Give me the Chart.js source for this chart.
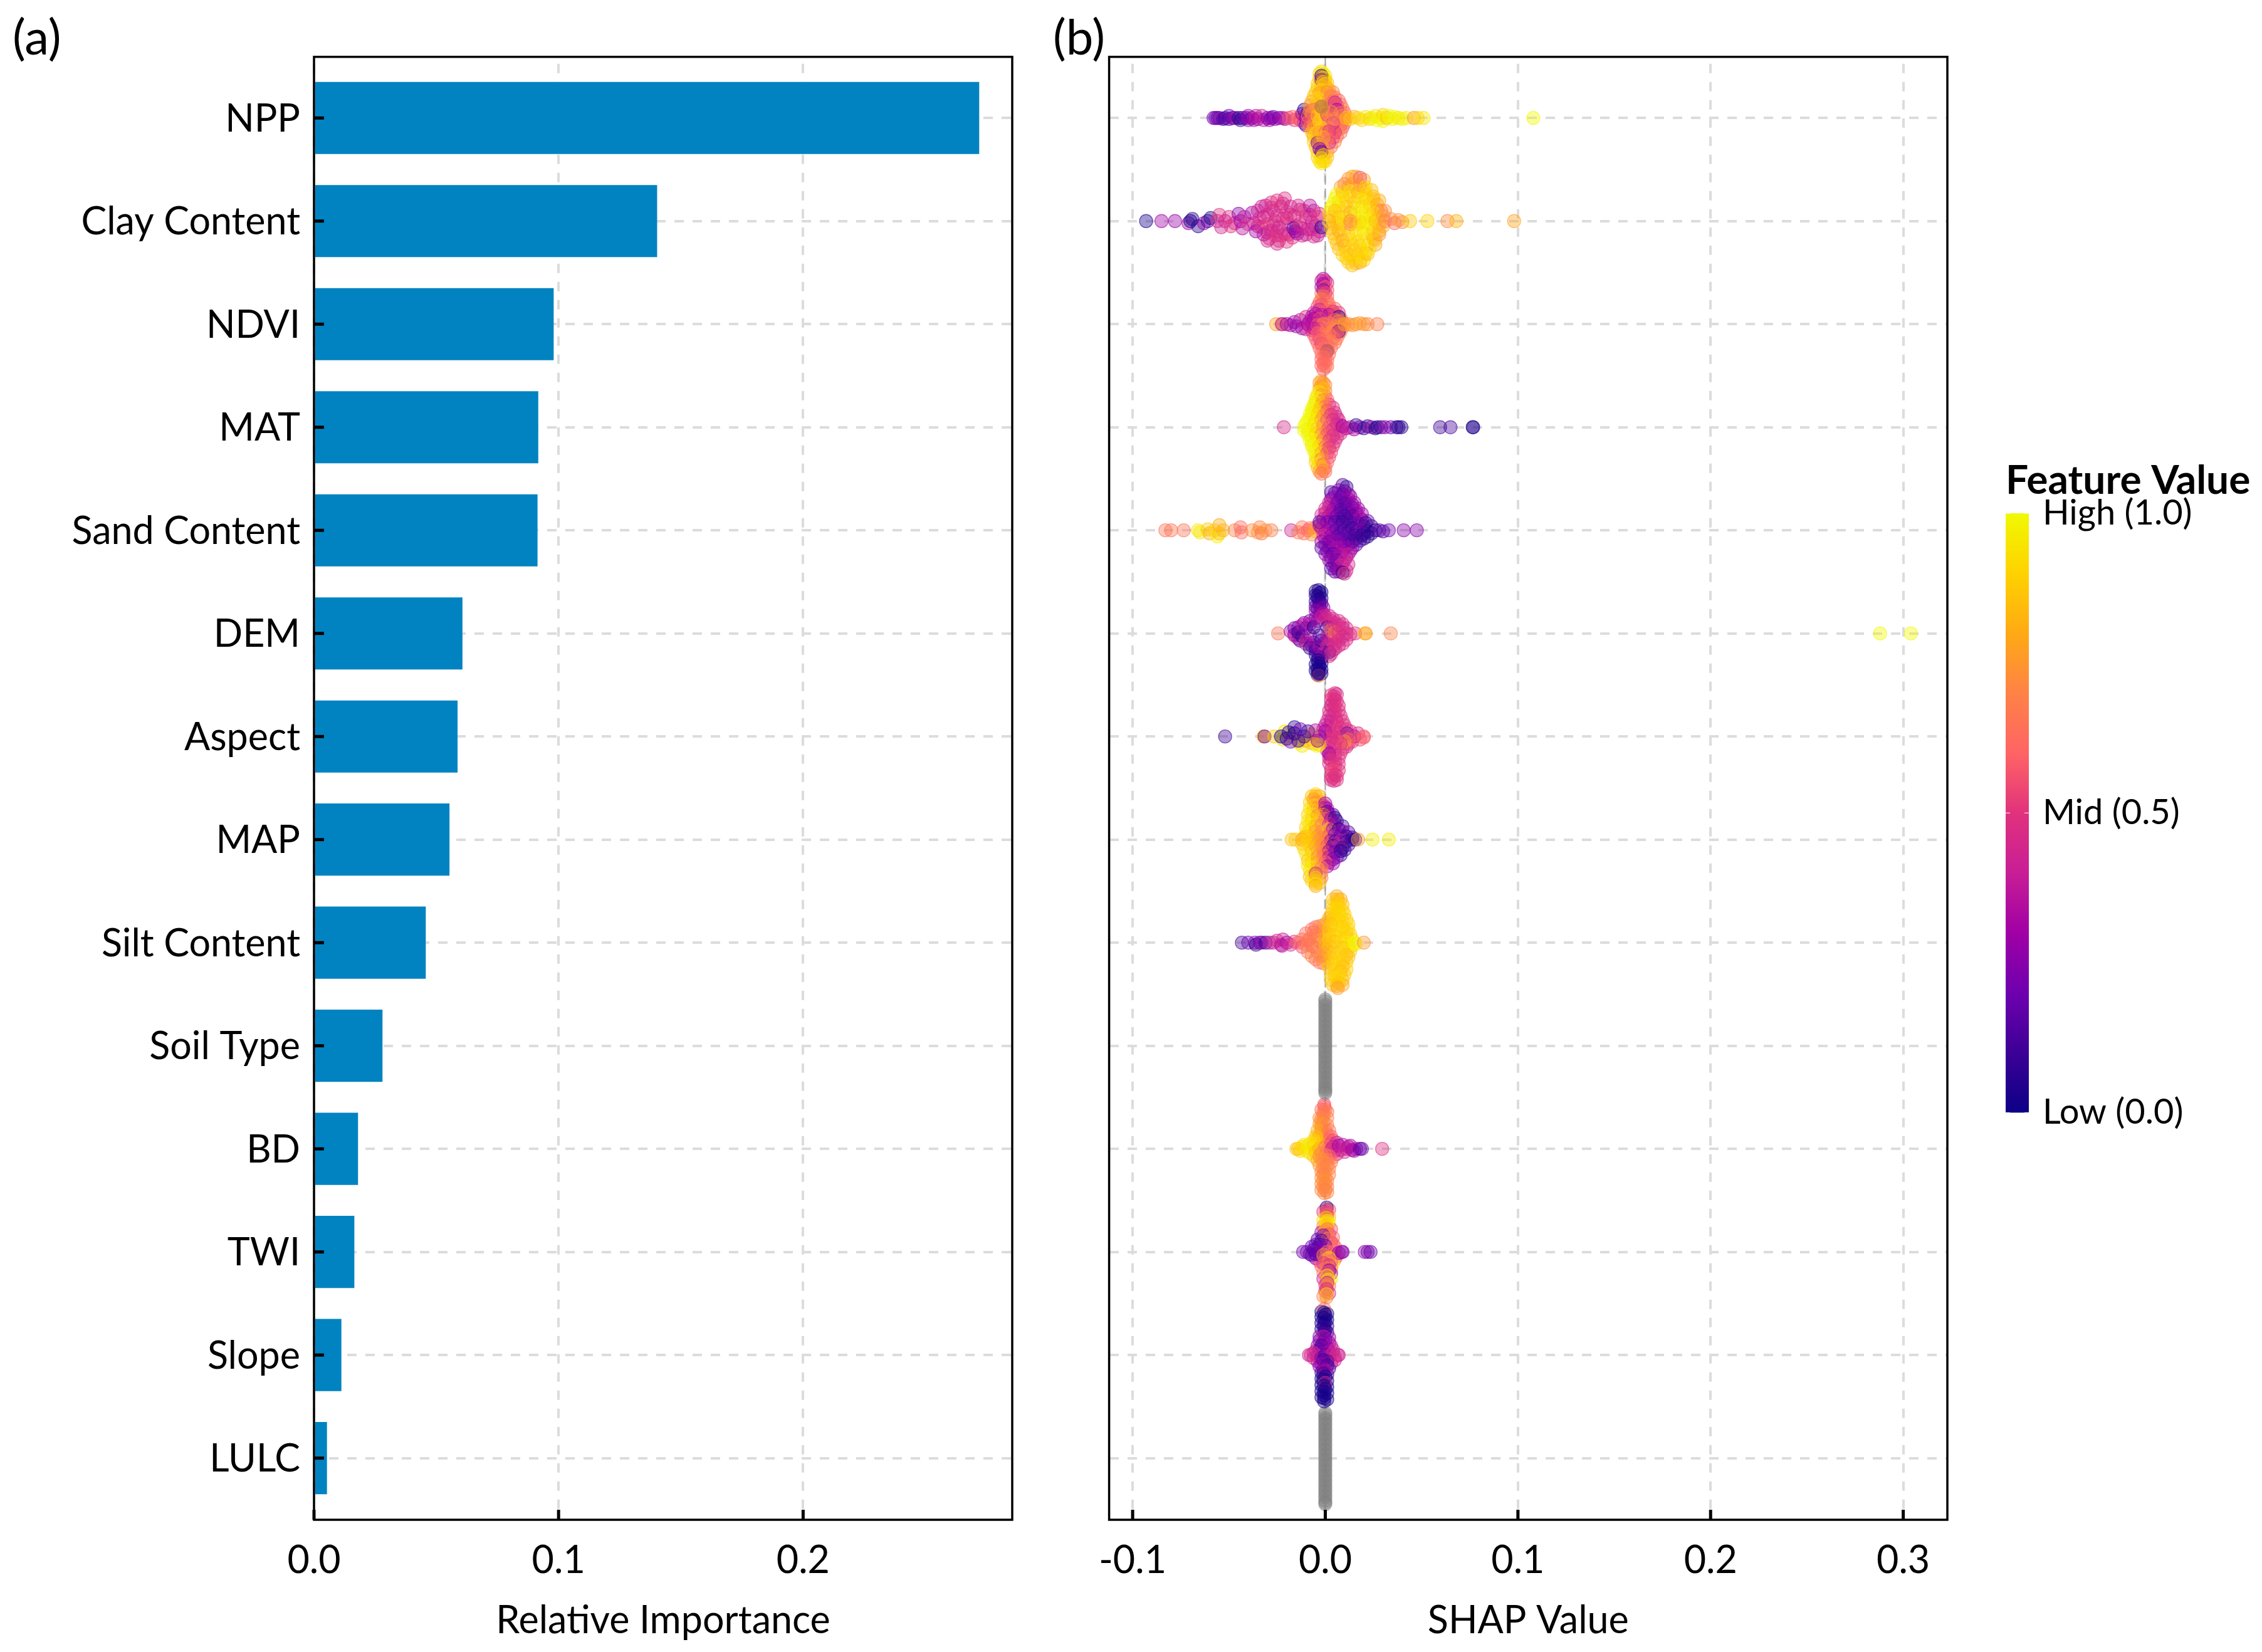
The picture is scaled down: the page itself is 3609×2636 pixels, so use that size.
<!DOCTYPE html>
<html>
<head>
<meta charset="utf-8">
<title>Feature importance and SHAP values</title>
<script src="https://cdn.jsdelivr.net/npm/chart.js@4/dist/chart.umd.min.js"></script>
<style>
  body { margin: 0; background: #fff; }
  canvas { position: absolute; }
</style>
</head>
<body>
<canvas id="barChart" width="1660" height="2636" style="left:0;top:0"></canvas>
<canvas id="swarmChart" width="1480" height="2636" style="left:1660px;top:0"></canvas>
<canvas id="colorbar" width="419" height="1096" style="left:3190px;top:735px"></canvas>
<script>
// feature names, top to bottom
const features = ['NPP', 'Clay Content', 'NDVI', 'MAT', 'Sand Content', 'DEM', 'Aspect', 'MAP',
  'Silt Content', 'Soil Type', 'BD', 'TWI', 'Slope', 'LULC'];
// panel (a)
const importance = [0.272, 0.1403, 0.098, 0.0917, 0.0914, 0.0607, 0.0587, 0.0554, 0.0457, 0.028, 0.018, 0.0165, 0.0112, 0.0053];
const importanceTicks = [0, 0.1, 0.2];
const shapTicks = [-0.1, 0, 0.1, 0.2, 0.3];
const colorbarTicks = [0, 0.5, 1];
const colorbarLabels = ['Low (0.0)', 'Mid (0.5)', 'High (1.0)'];

// panel (b): each point is [shap value, row offset, feature value]
const nppPoints = [[-.058,0,.2],[-.057,0,.25],[-.056,0,.17],[-.055,0,.22],[-.053,.01,.15],[-.052,0,.12],[-.05,-.02,.2],[-.05,.01,.14],[-.048,0,.18],[-.047,0,.3],[-.045,0,.05],[-.044,.02,.08],[-.043,0,.12],[-.041,0,.2],[-.04,-.02,.3],[-.04,.02,.25],[-.038,0,.22],[-.037,.02,.32],[-.036,-.02,.38],[-.035,.01,.3],[-.033,-.02,.4],[-.032,.02,.35],[-.03,0,.25],[-.029,.02,.28],[-.028,0,.2],[-.027,-.01,.22],[-.026,.01,.3],[-.024,0,.2],[-.022,0,.32],[-.021,.01,.35],[-.019,0,.55],[-.017,-.01,.6],[-.016,.02,.5],[-.014,0,.65],[-.013,.02,.55],[-.012,-.04,.3],[-.011,.05,.4],[-.011,-.08,.05],[-.01,.07,.15],[-.01,0,.25],[-.009,-.05,.08],[-.009,.03,.3],
  [-.003,-.43,.9],[0,-.41,.95],[-.003,-.38,.85],[0,-.37,.9],[-.004,-.33,.9],[.001,-.34,.85],[-.004,-.29,.88],[.002,-.27,.8],[-.005,-.25,.9],[.004,-.25,.7],[-.006,-.21,.85],[.005,-.2,.65],[.007,-.17,.6],[-.007,-.16,.8],[.008,-.13,.65],[-.008,-.12,.75],[.009,-.09,.7],[-.008,-.07,.7],[.01,-.05,.6],[-.009,-.02,.65],[.01,.01,.55],[-.009,.04,.6],[.01,.05,.7],[-.008,.09,.7],[.009,.09,.55],[-.007,.14,.85],[.008,.14,.65],[-.006,.18,.8],[.006,.18,.6],[-.006,.23,.9],[.005,.23,.7],[-.005,.28,.85],[.003,.28,.65],[-.004,.33,.9],[.001,.33,.75],[-.004,.38,.9],[.001,.38,.85],[-.003,.42,.95],[0,.42,.9],[-.002,-.15,.8],[.001,-.12,.55],[.004,-.1,.6],[-.003,-.08,.85],[0,-.07,.7],[.005,-.03,.55],[-.004,.08,.8],[.004,.1,.6],[.002,.16,.65],
  [-.002,-.45,.92],[-.001,-.43,.98],[-.002,-.41,.05],[-.001,-.39,.9],[-.002,-.37,.25],[-.001,-.35,.88],[0,-.33,.9],[-.002,-.31,.85],[.001,-.29,.8],[-.002,-.27,.9],[-.003,-.24,.75],[-.001,-.22,.85],[.001,-.25,.7],[.003,-.21,.65],[-.004,-.19,.92],[.002,-.18,.75],[.004,-.16,.6],[.005,-.15,.4],[.006,-.12,.55],[.006,-.08,.3],[.008,-.05,.65],[.009,-.02,.7],[.009,.03,.65],[.008,.07,.6],[.007,.11,.7],[.005,.14,.5],[.004,.19,.55],[.002,.24,.45],
  [-.005,-.12,.85],[-.006,-.08,.6],[-.007,-.04,.75],[-.007,.02,.55],[-.006,.06,.7],[-.006,.1,.8],[-.005,.15,.9],[-.004,.2,.85],[-.004,.24,.25],[-.004,-.02,.85],[-.003,.03,.92],[-.002,-.05,.9],[-.001,.01,.82],[0,.05,.88],[.001,-.03,.5],[.002,.02,.6],[.003,-.06,.75],[.004,.05,.45],[.005,.01,.7],[.001,.09,.7],[-.002,.1,.9],[-.003,.14,.75],[0,.14,.6],[.002,.13,.5],[-.001,.19,.85],[.001,.2,.65],[-.002,.27,.75],[-.003,.3,.25],[-.002,.33,.15],[-.001,.36,.85],[-.002,.39,.92],[-.001,.42,.9],[-.002,.44,.95],[-.002,-.11,.1],[-.002,-.11,.85],
  [.011,0,.85],[.013,.01,.88],[.015,-.01,.8],[.017,0,.92],[.019,.02,.9],[.021,-.01,.95],[.023,.01,.9],[.024,0,.98],[.026,-.02,.95],[.027,.02,1],[.029,0,.98],[.03,-.03,.9],[.03,.03,1],[.032,0,.85],[.033,-.02,1],[.035,.01,.98],[.036,-.01,1],[.038,0,.95],[.04,.01,.98],[.042,0,.98],[.046,0,.75],[.048,0,.9],[.051,0,.95],[.108,0,1]];
const clayPoints = [[-.093,0,.02],[-.085,0,.3],[-.078,0,.28],[-.071,.02,.3],[-.07,0,.02],[-.069,-.02,.05],[-.066,.05,.05],[-.063,.02,.28],[-.061,0,.15],[-.0595,-.03,.02],[-.056,0,.45],[-.055,-.06,.5],[-.054,.06,.42],[-.052,0,.4],[-.05,-.04,.47],[-.049,.05,.5],[-.047,.02,.45],[-.045,-.07,.25],[-.044,0,.3],[-.043,.07,.35],[-.042,-.04,.38],[-.04,.03,.45],
  [-.035,.05,.45],[-.033,-.14,.42],[-.032,-.04,.4],[-.03,.11,.45],[-.028,-.13,.45],[-.027,.04,.47],[-.025,.1,.42],[-.023,.14,.48],[-.022,-.17,.45],[-.02,-.03,.5],[-.019,.13,.42],[-.018,-.06,.47],[-.015,.05,.45],[-.013,-.11,.42],[-.012,.07,.47],[-.01,.13,.4],[-.008,-.06,.42],[-.007,.08,.45],[-.004,.14,.4],[-.03,.19,.45],[-.025,.22,.45],
  [-.038,-.08,.3],[-.037,.02,.4],[-.036,.1,.3],[-.035,-.1,.42],[-.034,-.03,.45],[-.033,.06,.47],[-.032,.13,.35],[-.031,-.15,.4],[-.03,-.06,.45],[-.03,.03,.5],[-.029,.17,.45],[-.028,-.18,.47],[-.028,.09,.42],[-.027,-.1,.45],[-.026,0,.47],[-.026,.14,.5],[-.025,-.2,.5],[-.025,-.05,.45],[-.024,.19,.47],[-.024,.06,.42],[-.023,-.14,.45],[-.022,-.02,.47],[-.021,.12,.45],[-.021,-.22,.48],[-.02,.2,.5],[-.02,-.09,.47],[-.019,.03,.45],[-.018,-.14,.42],[-.017,.16,.5],[-.016,-.05,.47],[-.0166,.07,.15],[-.0155,.1,.25],[-.0145,.12,.3],[-.014,-.15,.45],[-.013,.03,.47],[-.012,.14,.42],[-.011,-.1,.5],[-.01,-.04,.45],[-.009,.08,.4],[-.008,-.15,.35],[-.007,.01,.42],[-.006,.15,.45],[-.006,-.1,.38],[-.005,.05,.4],[-.004,-.04,.45],[-.003,.1,.4],[-.002,.06,.05],[-.003,-.07,.5],
  [.012,-.41,.75],[.016,-.43,.8],[.02,-.4,.78],[.008,-.33,.78],[.012,-.33,.8],[.016,-.32,.85],[.02,-.31,.9],[.024,-.3,.85],[.005,-.22,.95],[.009,-.24,.9],[.013,-.24,.85],[.017,-.23,.95],[.021,-.22,.88],[.025,-.21,.85],[.028,-.2,.8],[.003,-.13,.98],[.007,-.14,.9],[.011,-.14,.85],[.015,-.13,.95],[.019,-.14,.88],[.023,-.13,.92],[.027,-.11,.8],[.031,-.1,.72],[.003,-.04,.85],[.007,-.04,.8],[.011,-.03,.9],[.015,-.05,.95],[.019,-.04,.98],[.023,-.04,.9],[.027,-.03,.85],[.004,.03,.95],[.008,.03,.85],[.016,.03,.85],[.02,.02,.9],[.024,.03,.95],[.028,.03,.8],[.004,.12,.85],[.008,.13,.9],[.012,.13,.85],[.016,.13,.95],[.02,.12,.9],[.024,.13,.85],[.028,.1,.78],[.006,.22,.88],[.01,.24,.82],[.014,.23,.9],[.018,.24,.85],[.022,.23,.92],[.026,.18,.82],[.009,.33,.9],[.013,.33,.85],[.017,.33,.92],[.021,.31,.85],[.012,.4,.9],[.016,.41,.85],[.02,.38,.9],
  [.014,-.43,.78],[.018,-.42,.55],[.014,.43,.85],[.018,.4,.8],[.01,-.36,.7],[.014,-.36,.75],[.018,-.35,.7],[.021,-.33,.9],[.011,.36,.88],[.015,.37,.9],[.019,.36,.95],[.022,.32,.85],[.006,-.26,1],[.009,-.28,.85],[.013,-.29,.95],[.017,-.28,.8],[.021,-.26,.9],[.025,-.24,.85],[.007,.27,.85],[.011,.3,.9],[.015,.28,.85],[.019,.29,.9],[.023,.27,.95],[.026,.23,.8],[.004,-.17,1],[.007,-.19,.95],[.011,-.2,.9],[.015,-.18,.85],[.019,-.2,.95],[.023,-.17,.9],[.027,-.16,.8],[.029,-.1,.7],[.005,.17,.85],[.009,.19,.8],[.013,.18,.9],[.017,.2,.9],[.021,.18,.95],[.025,.17,.85],[.028,.13,.75],[.002,-.08,.95],[.005,-.1,.85],[.009,-.09,.9],[.013,-.08,.8],[.017,-.1,1],[.021,-.09,.95],[.025,-.08,.9],[.03,-.05,.75],[.003,.07,.85],[.007,.09,.8],[.011,.06,.9],[.013,.03,.7],[.017,.08,.95],[.021,.06,1],[.025,.09,.9],[.03,.05,.8],[.002,0,.8],[.006,.02,.85],[.009,-.02,.95],[.013,0,.72],[.018,.01,.9],[.022,-.01,.98],[.026,0,.85],[.031,0,.7],[.034,-.02,.72],[.036,.02,.6],[.038,-.01,.75],[.04,.01,.72],[.044,0,.88],[.053,0,.9],[.0634,0,.72],[.068,0,.82],[.098,0,.78]];
const ndviPoints = [[-.0255,0,.78],[-.0225,0,.75],[-.0225,0,.35],[-.02,0,.3],[-.018,.01,.35],[-.016,-.02,.3],[-.015,.02,.25],[-.013,-.04,.35],[-.012,.04,.3],[-.01,-.07,.45],[-.01,.05,.4],[-.009,0,.3],
  [-.002,-.42,.4],[.001,-.4,.45],[-.002,-.36,.35],[.001,-.33,.55],[-.002,-.3,.65],[.001,-.27,.6],[-.003,-.21,.6],[.002,-.19,.7],[.003,-.13,.65],[-.004,-.17,.55],[.005,-.15,.6],[-.006,-.11,.45],[.007,-.11,.5],[-.007,-.07,.35],[.008,-.06,.65],[-.008,-.03,.35],[.009,-.02,.7],[-.008,.02,.4],[.009,.03,.72],[-.007,.06,.45],[.008,.07,.7],[-.006,.1,.55],[.007,.1,.65],[-.005,.14,.6],[.006,.14,.68],[-.004,.18,.6],[.005,.18,.65],[-.003,.23,.6],[.003,.23,.65],[-.002,.28,.62],[.002,.29,.65],[-.002,.34,.6],[.001,.35,.62],[-.002,.4,.6],[.001,.41,.65],[-.002,0,.6],[.003,.03,.68],[0,.07,.6],[-.003,-.08,.5],[.003,-.06,.6],
  [-.001,-.44,.35],[0,-.42,.45],[-.001,-.39,.3],[0,-.36,.6],[-.001,-.33,.25],[0,-.3,.55],[-.001,-.27,.65],[-.002,-.24,.7],[.001,-.22,.6],[-.002,-.19,.55],[.002,-.16,.65],[-.003,-.14,.4],[.001,-.13,.6],[.004,-.12,.5],[-.005,-.1,.35],[-.002,-.09,.35],[.002,-.09,.3],[.005,-.09,.55],[.007,-.07,.08],[-.006,-.05,.3],[-.003,-.05,.55],[.001,-.05,.4],[.005,-.04,.65],[.007,-.03,.7],
  [-.007,-.01,.35],[-.004,.01,.6],[-.001,0,.7],[.002,-.01,.65],[.005,.02,.7],[.008,.01,.7],[-.006,.04,.35],[-.003,.05,.5],[.001,.05,.65],[.005,.05,.72],[.007,.07,.15],[.006,.08,.55],[-.004,.09,.6],[-.001,.1,.65],[.002,.1,.7],[.004,.13,.6],[-.003,.14,.55],[0,.15,.65],[.003,.17,.7],[-.002,.19,.55],[.001,.21,.6],[-.001,.24,.65],[.001,.26,.1],[.001,.26,.7],[0,.29,.6],[-.001,.32,.65],[0,.35,.6],[-.001,.38,.6],[0,.41,.65],[-.001,.44,.6],
  [.01,0,.78],[.012,0,.72],[.014,.01,.75],[.016,0,.72],[.018,-.01,.78],[.02,0,.75],[.022,0,.72],[.027,0,.68]];
const matPoints = [[-.0215,0,.45],[-.003,-.43,.75],[0,-.41,.72],[-.003,-.38,.8],[0,-.35,.7],[-.004,-.32,.95],[0,-.3,.65],[-.005,-.28,.95],[.001,-.27,.6],[-.006,-.22,1],[.002,-.22,.5],[.004,-.19,.5],[-.007,-.18,.98],[.005,-.14,.45],[-.008,-.13,1],[.006,-.1,.45],[-.009,-.07,1],[.007,-.07,.45],[-.01,-.04,1],[.008,-.02,.4],[-.011,.03,1],[.008,.06,.48],[-.009,.07,.98],[.006,.1,.45],[-.008,.13,1],[.005,.14,.5],[-.007,.18,.95],[.004,.18,.5],[-.006,.23,1],[.003,.24,.55],[-.005,.29,.98],[.002,.29,.55],[-.005,.34,.9],[.001,.34,.6],[-.004,.39,.85],[0,.39,.62],[-.003,.43,.75],[0,.43,.62],[-.002,-.15,.85],[-.003,.04,.85],[.001,.03,.55],[-.002,.15,.8],
  [-.002,-.45,.8],[-.001,-.43,.72],[-.002,-.4,.78],[-.001,-.37,.85],[-.003,-.34,.95],[-.002,-.31,.75],[-.004,-.28,1],[-.001,-.26,.7],[-.005,-.24,.95],[-.002,-.22,.8],[0,-.2,.6],[-.006,-.18,1],[-.003,-.17,.85],[.001,-.16,.55],[-.007,-.13,.98],[-.004,-.12,.9],[-.001,-.11,.7],[.003,-.12,.5],[-.008,-.08,1],[-.005,-.07,.95],[-.002,-.07,.75],[.001,-.07,.55],[.004,-.07,.45],
  [-.011,-.01,1],[-.009,.02,.98],[-.006,-.02,.95],[-.004,.01,.9],[-.001,-.02,.7],[.002,0,.55],[.004,.02,.5],[.006,-.03,.45],[.008,.03,.5],[-.008,.06,1],[-.005,.07,.9],[-.002,.07,.7],[.001,.07,.55],[.004,.08,.45],[-.007,.12,1],[-.004,.13,.95],[-.001,.12,.65],[.002,.13,.5],[-.006,.18,1],[-.003,.18,.9],[0,.19,.6],[.002,.2,.5],[-.005,.24,.98],[-.002,.25,.8],[.001,.25,.55],[-.004,.3,.95],[-.002,.31,.7],[-.003,.35,.95],[-.001,.36,.6],[-.002,.39,.85],[-.001,.42,.7],[-.002,.45,.65],
  [.009,-.01,.3],[.011,.01,.35],[.013,0,.4],[.015,.02,.3],[.016,-.02,.05],[.018,0,.25],[.02,.01,.1],[.022,-.01,.05],[.024,0,.3],[.026,.01,.08],[.027,0,.03],[.029,0,.1],[.031,0,.3],[.034,0,.2],[.037,0,.15],[.038,0,.03],[.0395,0,.05],[.0596,0,.1],[.065,0,.12],[.0765,0,.05],[.0768,0,.03]];
const sandPoints = [[-.083,0,.65],[-.08,0,.65],[-.0735,0,.65],[-.066,0,.95],[-.065,.02,.95],[-.061,-.01,.88],[-.06,.03,.8],[-.0575,0,.9],[-.056,.06,.98],[-.055,-.05,.8],[-.055,.03,.85],[-.053,0,.82],[-.047,0,.7],[-.044,-.03,.62],[-.0435,.02,.62],[-.038,0,.72],[-.035,.02,.75],[-.034,-.03,.7],[-.033,.03,.65],[-.031,0,.75],[-.028,0,.68],[-.0177,0,.42],[-.014,.02,.68],[-.012,-.03,.65],[-.011,.03,.62],[-.009,0,.6],[-.008,-.02,.62],[-.007,.04,.72],[-.005,-.03,.7],[-.005,.01,.8],
  [.005,-.36,.2],[.009,-.35,.15],[.013,-.33,.25],[.003,-.3,.3],[.007,-.29,.2],[.011,-.28,.1],[.015,-.27,.3],[.002,-.23,.35],[.006,-.23,.25],[.01,-.22,.12],[.014,-.22,.2],[.017,-.21,.3],[0,-.17,.4],[.004,-.17,.2],[.008,-.17,.15],[.012,-.17,.12],[.016,-.16,.2],[.019,-.16,.3],[-.001,-.11,.3],[.003,-.11,.2],[.007,-.11,.12],[.011,-.11,.12],[.015,-.11,.1],[.019,-.1,.25],[.022,-.09,.2],[-.003,-.05,.3],[.004,-.05,.2],[.008,-.05,.12],[.012,-.05,.1],[.016,-.04,.12],[.02,-.04,.08],[.024,-.04,.1],[0,.02,.35],[.004,.02,.2],[.008,.02,.12],[.012,.02,.12],[.016,.02,.15],[.02,.03,.1],[.024,.03,.1],[0,.08,.3],[.004,.08,.2],[.008,.08,.15],[.012,.08,.12],[.016,.08,.1],[.02,.08,.12],[0,.14,.25],[.004,.14,.3],[.008,.14,.2],[.012,.14,.15],[.016,.14,.2],[.001,.2,.2],[.005,.2,.25],[.009,.2,.2],[.013,.2,.3],[.003,.26,.2],[.007,.26,.3],[.011,.26,.3],[.005,.32,.3],[.009,.32,.35],[.012,.33,.45],[.006,.37,.35],[.011,.39,.4],[.005,.4,.15],
  [.009,-.44,.15],[.011,-.42,.08],[.007,-.39,.25],[.01,-.38,.15],[.003,-.37,.15],[.012,-.35,.3],[.004,-.32,.25],[.008,-.32,.2],[.012,-.3,.3],[.002,-.27,.4],[.006,-.26,.2],[.01,-.26,.15],[.014,-.25,.25],[0,-.21,.45],[.004,-.2,.3],[.008,-.2,.15],[.012,-.2,.2],[.016,-.19,.3],[-.002,-.15,.45],[.002,-.14,.35],[.006,-.14,.2],[.01,-.14,.12],[.014,-.14,.15],[.018,-.12,.35],[-.003,-.08,.15],[.001,-.08,.2],[.005,-.08,.15],[.009,-.08,.1],[.013,-.08,.15],[.017,-.07,.2],[.021,-.07,.1],
  [-.002,-.02,.35],[.002,-.02,.3],[.006,-.01,.2],[.01,0,.15],[.014,-.02,.1],[.018,0,.25],[.022,.01,.08],[.026,0,.05],[.028,0,.2],[.03,.01,.12],[.033,0,.2],
  [-.001,.05,.4],[.003,.05,.3],[.007,.05,.15],[.011,.05,.2],[.015,.05,.12],[.019,.05,.08],[.022,.06,.05],[-.002,.11,.3],[.002,.11,.2],[.006,.11,.3],[.01,.11,.2],[.014,.11,.12],[.018,.1,.1],[-.002,.17,.15],[.002,.17,.25],[.006,.17,.35],[.01,.17,.3],[.014,.17,.25],[0,.23,.25],[.004,.23,.15],[.008,.23,.35],[.012,.23,.4],[.002,.29,.3],[.006,.29,.2],[.01,.29,.4],[.004,.34,.25],[.008,.34,.45],[.003,.37,.15],[.007,.4,.3],[.009,.41,.05],[.01,.42,.5],[.0407,0,.25],[.0475,0,.25]];
const demPoints = [[-.0035,-.42,.02],[-.003,-.39,.03],[-.004,-.36,.02],[-.0035,-.33,.05],[-.003,-.3,.12],[-.003,-.27,.2],[-.004,-.24,.1],[-.002,-.21,.3],[-.003,-.19,.25],
  [-.005,-.41,.03],[-.002,-.4,.02],[-.005,-.37,.05],[-.002,-.34,.03],[-.005,-.31,.08],[-.002,-.29,.1],[-.005,-.26,.12],[-.001,-.25,.25],[-.005,-.22,.3],[-.001,-.19,.35],[0,-.17,.45],[.002,-.17,.42],[-.005,-.15,.25],[.004,-.14,.45],[-.008,-.12,.2],[.007,-.12,.45],[-.011,-.1,.3],[.009,-.09,.47],[-.014,-.06,.3],[.011,-.05,.45],[-.016,.01,.25],[.013,.01,.48],[-.013,.07,.1],[.011,.06,.45],[-.01,.1,.35],[.009,.1,.47],[-.007,.12,.3],[.007,.12,.45],[-.005,.14,.1],[.004,.16,.48],[-.003,.19,.3],[.002,.22,.47],[-.005,.21,.05],[-.002,.24,.05],[-.005,.3,.02],[-.002,.29,.05],[-.005,.36,.03],[-.002,.35,.02],[-.004,.4,.02],[-.002,.39,.03],[.002,-.09,.45],[.004,-.06,.45],[.004,.03,.45],[.006,.04,.47],[-.001,.1,.4],[.001,.07,.42],
  [-.0245,0,.65],[-.018,-.02,.3],[-.016,.02,.4],[-.016,-.05,.2],[-.014,.05,.3],[-.014,-.01,.05],[-.012,-.08,.35],[-.012,.03,.1],[-.01,.07,.45],[-.01,-.05,.2],[-.008,.14,.05],[-.008,-.09,.35],[-.008,.02,.3],[-.006,-.06,.03],[-.006,.09,.25],[-.005,.17,.15],[-.004,-.12,.3],[-.003,.02,.15],[-.003,.13,.35],[-.002,-.16,.4],[-.002,.07,.1],[-.001,.2,.4],
  [0,-.14,.45],[.001,-.06,.1],[.001,.03,.35],[.001,.12,.4],[.002,.18,.08],[.003,-.12,.45],[.003,-.03,.65],[.003,.07,.45],[.003,.2,.45],[.005,-.1,.45],[.005,-.01,.7],[.005,.1,.45],[.005,.15,.45],[.007,-.08,.45],[.007,0,.5],[.007,.07,.47],[.009,-.05,.47],[.009,.03,.45],[.011,0,.45],[.0155,0,.5],[.0205,0,.85],[.021,0,.75],[.034,0,.7],
  [-.0035,.23,.15],[-.004,.26,.02],[-.0035,.29,.03],[-.003,.32,.02],[-.004,.35,.02],[-.0035,.41,.72],[-.0035,.38,.05],[-.0035,.39,.03],[.288,0,1],[.304,0,1]];
const aspectPoints = [[.005,-.42,.48],[.0045,-.39,.5],[.005,-.36,.45],[.004,-.33,.5],[.005,-.3,.47],[.004,-.27,.5],[.005,-.24,.48],[.004,-.21,.45],[.0055,-.18,.5],[.003,-.15,.47],[.006,-.14,.45],[.002,-.1,.45],[.005,-.1,.5],[.008,-.08,.5],
  [.003,-.4,.5],[.006,-.41,.45],[.003,-.36,.48],[.006,-.34,.5],[.003,-.3,.45],[.007,-.3,.48],[.002,-.25,.47],[.007,-.25,.5],[.002,-.2,.45],[.008,-.2,.47],[.001,-.15,.42],[.009,-.15,.48],[0,-.11,.4],[.01,-.11,.5],[-.001,-.07,.4],[.011,-.07,.47],[.013,-.05,.5],[.017,-.03,.45],[.018,.03,.55],[.014,.05,.5],[.012,.07,.48],[.011,.1,.5],[.009,.12,.47],[.001,.14,.42],[.008,.16,.5],[.002,.21,.47],[.007,.21,.5],[.002,.26,.45],[.007,.27,.5],[.003,.32,.47],[.007,.33,.5],[.003,.38,.5],[.006,.38,.5],[.003,.42,.48],[.006,.42,.5],[.004,0,.5],[.008,0,.48],[.003,-.02,.45],
  [0,-.05,.3],[.004,-.05,.5],[.007,-.04,.47],[.0113,-.03,.6],[.0113,-.03,.2],[.015,.01,.65],[.015,0,.35],[.02,0,.55],[.02,.01,.6],[.012,.03,.6],[.01,.05,.75],[.003,.03,.45],[.006,.02,.5],[0,.02,.5],[-.003,0,.2],
  [.002,.06,.45],[.005,.07,.5],[.008,.07,.5],[.002,.11,.45],[.005,.12,.5],[.002,.17,.3],[.002,.16,.35],[.005,.18,.47],[.003,.23,.5],[.005,.24,.47],[.005,.29,.5],[.004,.33,.55],[.005,.37,.48],[.004,.4,.5],[.0045,.43,.47],
  [-.052,0,.1],[-.032,0,.65],[-.032,0,.98],[-.0315,0,.2],[-.0265,0,.88],[-.022,.03,.92],[-.021,-.05,.95],[-.017,0,.95],[-.014,.06,.98],[-.012,.09,.95],[-.01,.04,.75],[-.008,.06,.9],[-.007,-.02,.85],[-.006,.07,.85],[-.004,.09,1],[-.003,.08,.92],[-.023,0,.02],[-.02,.02,.05],[-.019,-.04,.08],[-.018,.05,.2],[-.016,-.09,.05],[-.016,-.03,.03],[-.014,.04,.1],[-.013,-.07,.2],[-.011,0,.1],[-.009,-.05,.1],[-.005,-.06,.35],[-.004,.04,.3]];
const mapPoints = [[-.007,-.42,.85],[-.003,-.42,.8],[-.008,-.36,.9],[-.003,-.37,.75],[-.008,-.3,.95],[-.001,-.33,.55],[-.009,-.24,.9],[.001,-.3,.3],[-.009,-.18,.95],[.004,-.24,.15],[-.01,-.12,.9],[.006,-.18,.1],[-.01,-.06,.95],[.009,-.13,.1],[-.011,-.02,.85],[.012,-.07,.15],[.014,-.02,.1],[-.012,.04,.85],[.012,.05,.15],[-.011,.09,.9],[.01,.1,.12],[-.01,.14,.95],[.008,.15,.1],[-.009,.2,.85],[.006,.17,.25],[-.009,.25,.95],[.004,.23,.3],[-.008,.3,.95],[.002,.22,.4],[-.008,.36,.85],[-.002,.37,.7],[-.007,.4,.9],[-.003,.42,.85],[-.002,-.05,.7],[-.005,-.01,.78],[-.002,.03,.72],[.001,.09,.6],[-.003,.14,.72],[0,.14,.55],
  [-.005,-.44,.9],[-.005,-.42,.82],[-.006,-.39,.75],[-.005,-.36,.72],[-.006,-.33,.92],[-.004,-.31,.7],[0,-.35,.3],[-.006,-.28,.9],[-.003,-.28,.75],[0,-.31,.35],[.001,-.27,.1],[-.007,-.24,.95],[-.004,-.23,.72],[-.001,-.24,.8],[.002,-.25,.3],[-.007,-.19,.9],[-.004,-.18,.85],[0,-.2,.65],[.003,-.2,.3],[.005,-.21,.05],[-.008,-.14,.98],[-.005,-.13,.8],[-.002,-.14,.7],[.002,-.15,.45],[.005,-.15,.25],[-.008,-.09,.92],[-.005,-.08,.75],[-.002,-.08,.72],[.002,-.1,.88],[.004,-.1,.3],[.007,-.1,.05],[.009,-.08,.3],
  [-.01,-.03,.85],[-.007,-.02,.88],[-.004,-.03,.75],[-.001,-.02,.72],[.002,-.04,.55],[.005,-.05,.2],[.008,-.04,.2],[.011,-.03,.1],[-.0175,0,.85],[-.0155,0,.88],[-.012,0,.8],[-.009,.01,.9],[-.006,.01,.85],[-.003,0,.72],[0,.02,.72],[.003,.01,.3],[.005,.02,.12],[.008,.01,.4],[.011,.02,.08],[.014,0,.1],[.0155,0,.03],[.017,0,.75],[.0245,0,.97],[.033,0,.97],
  [-.008,.06,.9],[-.005,.06,.78],[-.002,.06,.72],[.001,.06,.55],[.004,.06,.12],[.007,.06,.4],[.009,.08,.1],[-.007,.11,.85],[-.004,.11,.75],[-.001,.11,.7],[.002,.11,.3],[.005,.12,.2],[.008,.11,.05],[-.007,.17,.95],[-.004,.17,.72],[-.001,.16,.65],[.002,.17,.35],[.004,.19,.2],[-.007,.22,.9],[-.004,.22,.75],[0,.22,.6],[.001,.26,.3],[-.007,.27,.98],[-.004,.28,.85],[-.002,.27,.65],[-.005,.33,.92],[-.002,.32,.7],[-.006,.35,.95],[-.005,.33,.45],[-.005,.37,.9],[-.005,.4,.88],[-.005,.43,.95],[-.005,.45,.8]];
const siltPoints = [[-.0433,0,.12],[-.04,0,.2],[-.0365,0,.25],[-.036,.02,.05],[-.034,0,.2],[-.033,0,.28],[-.031,0,.08],[-.029,0,.35],[-.027,0,.4],[-.025,-.02,.45],[-.023,.02,.4],[-.022,-.03,.42],[-.02,0,.3],[-.0225,.03,.35],[-.018,.02,.45],[-.016,-.01,.5],[-.014,0,.6],[-.012,-.03,.65],[-.012,.04,.55],
  [-.01,-.09,.62],[-.01,.02,.65],[-.009,.09,.68],[-.008,-.04,.68],[-.007,-.13,.65],[-.007,.13,.7],[-.006,.04,.68],[-.005,-.15,.62],[-.005,-.07,.68],[-.005,.16,.65],[-.004,.09,.7],[-.003,-.16,.7],[-.003,-.01,.72],[-.003,.19,.65],[-.002,-.11,.7],[-.002,.13,.72],[-.001,.04,.72],[-.001,.2,.7],[-.001,-.17,.72],[-.007,.03,.65],[-.006,-.1,.65],[-.004,-.03,.7],[-.009,-.02,.65],
  [.004,-.42,.85],[.008,-.42,.8],[.004,-.37,.88],[.009,-.37,.85],[.004,-.32,.9],[.009,-.31,.88],[.003,-.28,.85],[.01,-.28,.9],[.002,-.24,.82],[.011,-.22,.88],[.001,-.2,.8],[.012,-.18,.9],[.012,-.13,.92],[0,-.1,.75],[.013,-.08,.9],[0,-.05,.78],[.014,-.03,.9],[0,.01,.8],[.014,.03,.95],[0,.06,.75],[.013,.08,.88],[0,.12,.72],[.012,.14,.85],[.001,.18,.78],[.011,.19,.88],[.002,.24,.85],[.011,.26,.9],[.003,.3,.85],[.01,.31,.88],[.003,.36,.9],[.009,.36,.85],[.004,.41,.85],[.009,.41,.8],
  [.006,-.45,.78],[.0065,-.42,.85],[.006,-.39,.88],[.007,-.36,.9],[.006,-.33,.92],[.007,-.3,.88],[.005,-.27,.9],[.008,-.26,.92],[.004,-.23,.88],[.007,-.22,.9],[.009,-.2,.92],[.003,-.18,.85],[.006,-.17,.9],[.009,-.15,.88],[.002,-.13,.88],[.005,-.12,.9],[.008,-.11,.92],[.011,-.1,.9],[.002,-.08,.85],[.005,-.07,.88],[.008,-.06,.92],[.011,-.05,.88],[.002,-.03,.9],[.005,-.01,.85],[.008,-.01,.9],[.011,0,.95],[.002,.03,.85],[.006,.04,.9],[.009,.05,.85],[.012,.05,.92],[.002,.09,.82],[.005,.1,.88],[.008,.11,.9],[.011,.12,.85],[.003,.15,.85],[.006,.16,.9],[.009,.17,.88],[.004,.21,.88],[.007,.22,.92],[.009,.23,.85],[.005,.27,.9],[.008,.28,.85],[.005,.32,.88],[.007,.33,.92],[.006,.37,.9],[.007,.39,.88],[.006,.42,.85],[.0065,.44,.75],[.015,0,1],[.016,.01,.98],[.02,0,.75]];
const bdPoints = [[-.0005,-.43,.55],[-.0005,-.41,.6],[0,-.38,.65],[-.001,-.35,.7],[-.001,-.32,.72],[-.002,-.29,.72],[-.001,-.26,.7],[-.002,-.23,.78],[-.002,-.2,.72],[0,-.18,.7],[-.002,-.16,.75],[.001,-.14,.65],[-.003,-.13,.72],[0,-.1,.68],[-.004,-.1,.8],[.002,-.09,.6],[-.004,-.07,.9],[-.001,-.06,.75],[.003,-.05,.45],
  [-.002,-.38,.62],[.001,-.36,.65],[-.003,-.3,.72],[.001,-.3,.7],[-.003,-.24,.75],[.001,-.23,.7],[-.004,-.18,.8],[.002,-.18,.65],[-.005,-.12,.85],[.003,-.12,.6],[-.006,-.08,.92],[.004,-.08,.55],[-.008,-.05,.95],[.006,-.06,.4],[-.008,.04,.95],[.006,.05,.4],[-.006,.07,.85],[.004,.08,.6],[-.004,.11,.8],[.003,.13,.68],[-.003,.16,.75],[.002,.19,.7],[-.002,.22,.72],[.002,.25,.7],[-.002,.28,.72],[.001,.31,.7],[-.002,.34,.72],[.001,.37,.7],[-.002,.4,.72],[.001,.42,.7],[-.013,.02,.9],[-.011,-.04,.95],[.013,-.03,.35],[.015,.02,.3],
  [-.015,0,.85],[-.014,0,.88],[-.012,-.02,.92],[-.01,.02,.95],[-.009,-.03,.97],[-.007,.01,.98],[-.006,-.04,.9],[-.005,.03,.85],[-.003,0,.8],[-.002,.04,.72],[0,-.02,.68],[.001,.02,.65],[.003,.01,.45],[.004,-.02,.4],[.005,.02,.45],[.007,-.03,.3],[.008,.01,.4],[.009,-.04,.35],[.01,.03,.45],[.011,0,.4],[.012,-.02,.35],[.014,.01,.3],[.016,0,.35],[.018,0,.15],[.019,0,.2],[.0295,0,.48],
  [-.003,.07,.72],[0,.06,.68],[.002,.07,.6],[-.002,.1,.75],[.001,.11,.7],[-.001,.14,.72],[.001,.16,.68],[-.001,.19,.7],[0,.22,.72],[-.001,.25,.68],[0,.28,.72],[-.001,.31,.75],[0,.34,.7],[-.001,.37,.72],[0,.4,.68],[-.0005,.43,.72]];
const twiPoints = [[.002,-.41,.55],[-.001,-.39,.5],[.002,-.34,.85],[-.001,-.31,.95],[.002,-.28,.95],[-.001,-.25,.7],[.003,-.22,.55],[-.002,-.19,.3],[.004,-.14,.6],[-.004,-.12,.15],[.004,-.08,.65],[-.005,-.07,.2],[.005,-.05,.6],[-.007,-.05,.2],[.006,.04,.65],[-.007,.03,.15],[-.005,.06,.25],[.005,.07,.6],[-.003,.09,.45],[.004,.11,.95],[-.002,.14,.6],[.003,.16,.65],[-.001,.2,.7],[.003,.21,.3],[-.001,.26,.4],[.003,.26,.95],[0,.32,.5],[.002,.33,.65],[0,.38,.5],[.002,.4,.45],[-.001,.43,.7],
  [.0007,-.43,.05],[.0007,-.41,.55],[.0007,-.38,.55],[.001,-.36,.6],[.0005,-.33,.9],[.001,-.3,.98],[.0007,-.28,.95],[.0005,-.25,.85],[.001,-.22,.6],[0,-.2,.75],[.002,-.17,.55],[-.001,-.16,.2],[.0015,-.13,.7],[-.002,-.11,.1],[.003,-.09,.55],[-.003,-.07,.15],[0,-.06,.2],
  [-.0115,0,.2],[-.0095,0,.22],[-.008,.02,.2],[-.006,-.02,.15],[-.005,.02,.15],[-.004,-.04,.18],[-.003,.03,.2],[-.002,-.02,.25],[-.001,.03,.75],[.001,0,.65],[.003,.02,.55],[.005,-.01,.6],[.007,.01,.25],[.009,0,.2],[.0085,0,.3],[.0205,0,.25],[.022,0,.22],[.0235,0,.2],
  [.002,.06,.95],[0,.08,.7],[.003,.09,.6],[-.001,.11,.5],[.002,.13,.45],[.001,.16,.7],[.002,.18,.25],[.001,.2,.55],[.001,.23,.95],[.001,.25,.6],[.0015,.27,.98],[.001,.3,.4],[.0007,.33,.7],[.0007,.36,.45],[.0007,.39,.55],[.0007,.41,.95],[.0007,.44,.7]];
const slopePoints = [[-.002,-.42,.02],[.001,-.4,.02],[-.002,-.37,.02],[.001,-.34,.02],[-.002,-.31,.02],[.001,-.28,.05],[-.002,-.25,.05],[.001,-.22,.1],[-.003,-.18,.25],[.002,-.17,.3],[-.003,-.14,.2],[.002,-.12,.3],[-.004,-.09,.3],[.003,-.09,.35],[-.005,-.04,.4],[.004,-.05,.42],[-.006,.03,.42],[.005,.05,.42],[-.004,.06,.35],[.003,.08,.35],[-.003,.11,.25],[.002,.13,.15],[-.002,.17,.1],[.001,.19,.1],[-.002,.23,.02],[.001,.25,.02],[-.002,.29,.02],[.001,.31,.02],[-.002,.35,.02],[.001,.37,.02],[-.002,.41,.02],[.001,.43,.02],
  [-.0006,-.445,.6],[-.0006,-.41,.02],[0,-.39,.02],[-.0006,-.36,.02],[0,-.33,.03],[-.0006,-.3,.02],[-.0006,-.27,.1],[0,-.24,.05],[-.0006,-.21,.15],[-.001,-.18,.4],[0,-.15,.2],[-.001,-.12,.25],[-.002,-.09,.1],[.001,-.07,.3],[-.003,-.05,.15],[-.001,-.04,.2],[.002,-.03,.35],
  [-.0085,0,.42],[-.0075,0,.45],[-.006,-.02,.42],[-.004,.01,.4],[-.002,.03,.2],[0,0,.15],[.002,.01,.35],[.004,-.02,.42],[.005,.02,.5],[.0065,0,.45],[.007,0,.4],
  [-.001,.05,.1],[.001,.06,.15],[-.002,.09,.3],[.001,.1,.1],[-.001,.13,.25],[0,.15,.35],[-.001,.18,.1],[0,.21,.02],[-.001,.24,.02],[0,.27,.45],[-.0006,.3,.02],[0,.33,.02],[-.0006,.36,.02],[-.0006,.39,.03],[-.0006,.42,.02],[-.0006,.45,.02]];
// these two features have no colour value and sit at zero, only the row offset varies
const soilTypeOffsets = [-.45,-.43,-.4,-.38,-.35,-.33,-.3,-.28,-.25,-.23,-.2,-.18,-.15,-.13,-.1,-.08,-.05,-.03,0,.02,.05,.07,.1,.12,.15,.17,.2,.22,.25,.27,.3,.32,.35,.37,.4,.42,.44,.46];
const lulcOffsets = [-.44,-.42,-.39,-.37,-.34,-.32,-.29,-.27,-.24,-.22,-.19,-.17,-.14,-.12,-.09,-.07,-.04,-.02,.01,.03,.06,.08,.11,.13,.16,.18,.21,.23,.26,.28,.31,.33,.36,.38,.41,.43,.446];

// colour map, 0 to 1 in steps of 0.1
const colormap = [[13,0,135],[60,0,150],[110,0,175],[160,0,165],[200,30,150],[225,50,125],[255,100,100],[255,130,70],[255,170,20],[255,210,0],[240,249,0]];
function mapColor(v, alpha) {
  const i = Math.min(Math.floor(v * 10), 9), t = v * 10 - i;
  const c = colormap[i].map((a, k) => Math.round(a + (colormap[i + 1][k] - a) * t));
  return `rgba(${c[0]},${c[1]},${c[2]},${alpha})`;
}

Chart.defaults.font.family = 'Lato';
Chart.defaults.font.size = 61;
Chart.defaults.color = '#000';

const gridGrey = '#dcdcdc';

// box round the plot and short ticks pointing inwards
function framePlugin(withRowTicks) {
  return {
    id: 'frame',
    afterDraw(chart) {
      const { ctx, chartArea: a, scales } = chart;
      ctx.save();
      ctx.strokeStyle = '#000';
      ctx.lineWidth = 5;
      scales.x.ticks.forEach(t => {
        const px = scales.x.getPixelForValue(t.value);
        ctx.beginPath(); ctx.moveTo(px, a.bottom); ctx.lineTo(px, a.bottom - 16); ctx.stroke();
      });
      if (withRowTicks) {
        scales.y.ticks.forEach(t => {
          const py = scales.y.getPixelForValue(t.value);
          ctx.beginPath(); ctx.moveTo(a.left, py); ctx.lineTo(a.left + 16, py); ctx.stroke();
        });
      }
      ctx.lineWidth = 3.5;
      ctx.strokeRect(a.left, a.top, a.right - a.left, a.bottom - a.top);
      ctx.restore();
    }
  };
}

// thin dashed line at SHAP = 0
const zeroLine = {
  id: 'zeroLine',
  beforeDatasetsDraw(chart) {
    const { ctx, chartArea: a, scales } = chart;
    const px = scales.x.getPixelForValue(0);
    ctx.save();
    ctx.strokeStyle = '#a0a0a0';
    ctx.lineWidth = 2;
    ctx.setLineDash([15, 6]);
    ctx.beginPath(); ctx.moveTo(px, a.top); ctx.lineTo(px, a.bottom); ctx.stroke();
    ctx.restore();
  }
};

// small white marks inside the colour bar
const colorbarMarks = {
  id: 'colorbarMarks',
  afterDatasetsDraw(chart) {
    const { ctx, chartArea: a, scales } = chart;
    ctx.save();
    ctx.strokeStyle = '#fff';
    ctx.lineWidth = 1;
    colorbarTicks.forEach(v => {
      const py = scales.y.getPixelForValue(v);
      ctx.beginPath(); ctx.moveTo(a.left, py); ctx.lineTo(a.left + 7, py); ctx.stroke();
      ctx.beginPath(); ctx.moveTo(a.right - 7, py); ctx.lineTo(a.right, py); ctx.stroke();
    });
    ctx.restore();
  }
};

function xScale(min, max, ticks, title, dashOffset) {
  return {
    type: 'linear', min, max,
    afterBuildTicks(s) { s.ticks = ticks.map(v => ({ value: v })); },
    afterFit(s) { s.height = 211; },
    grid: { color: gridGrey, lineWidth: 4, drawTicks: false },
    border: { display: false, dash: [15, 14], dashOffset },
    ticks: { padding: 29, callback: v => v.toFixed(1), autoSkip: false, maxRotation: 0 },
    title: { display: true, text: title, font: { size: 61 }, padding: { top: 0, bottom: 13 } }
  };
}

function rowScale(width, showLabels, dashOffset) {
  return {
    type: 'linear', min: -0.593, max: 13.598, reverse: true, offset: false,
    afterBuildTicks(s) { s.ticks = features.map((f, i) => ({ value: i })); },
    afterFit(s) { s.width = width; },
    grid: { color: gridGrey, lineWidth: 4, drawTicks: false, offset: false },
    border: { display: false, dash: [15, 14], dashOffset },
    ticks: { display: showLabels, padding: 22, labelOffset: 2, autoSkip: false, callback: v => features[v] }
  };
}

function panelTitle(text) {
  return { display: true, text, align: 'start', font: { size: 78, weight: 'normal', lineHeight: 0.74 }, color: '#000', padding: { top: 33, bottom: 0 } };
}

new Chart(document.getElementById('barChart'), {
  type: 'bar',
  data: {
    datasets: [{
      data: importance.map((v, i) => ({ x: v, y: i })),
      backgroundColor: '#0283c1',
      barPercentage: 0.7,
      categoryPercentage: 1
    }]
  },
  options: {
    indexAxis: 'y', responsive: false, animation: false, devicePixelRatio: 1,
    layout: { padding: { left: 20, right: 45, top: 0, bottom: 0 } },
    plugins: { legend: { display: false }, tooltip: { enabled: false }, title: panelTitle('(a)') },
    scales: {
      x: xScale(0, 0.2855, importanceTicks, 'Relative Importance', 18),
      y: rowScale(481, true, 5)
    }
  },
  plugins: [framePlugin(true)]
});

const swarmRows = [nppPoints, clayPoints, ndviPoints, matPoints, sandPoints, demPoints, aspectPoints, mapPoints, siltPoints,
  soilTypeOffsets.map(o => [0, o, null]), bdPoints, twiPoints, slopePoints, lulcOffsets.map(o => [0, o, null])];

new Chart(document.getElementById('swarmChart'), {
  type: 'scatter',
  data: {
    datasets: swarmRows.map((points, row) => ({
      label: features[row],
      data: points.map(p => ({ x: p[0], y: row + p[1] })),
      pointRadius: 10.5,
      pointBorderWidth: 1.3,
      pointBackgroundColor: points.map(p => p[2] === null ? 'rgba(128,128,128,0.45)' : mapColor(p[2], 0.4)),
      pointBorderColor: points.map(p => p[2] === null ? 'rgba(128,128,128,0.5)' : mapColor(p[2], 0.6))
    }))
  },
  options: {
    responsive: false, animation: false, devicePixelRatio: 1,
    layout: { padding: { left: 20, right: 33, top: 0, bottom: 0 } },
    plugins: { legend: { display: false }, tooltip: { enabled: false }, title: panelTitle('(b)') },
    scales: {
      x: xScale(-0.1122, 0.3229, shapTicks, 'SHAP Value', 18),
      y: rowScale(89.6, false, 0)
    }
  },
  plugins: [framePlugin(false), zeroLine]
});

// colour bar, a single floating bar filled with the colour map
new Chart(document.getElementById('colorbar'), {
  type: 'bar',
  data: {
    labels: [''],
    datasets: [{
      data: [[0, 1]],
      barPercentage: 1,
      categoryPercentage: 1,
      backgroundColor(c) {
        const area = c.chart.chartArea;
        if (!area) return '#000';
        const g = c.chart.ctx.createLinearGradient(0, area.bottom, 0, area.top);
        colormap.forEach((p, i) => g.addColorStop(i / 10, `rgb(${p[0]},${p[1]},${p[2]})`));
        return g;
      }
    }]
  },
  options: {
    responsive: false, animation: false, devicePixelRatio: 1,
    layout: { padding: { left: 10, right: 0, top: 0, bottom: 6 } },
    plugins: {
      legend: { display: false }, tooltip: { enabled: false },
      title: { display: true, text: 'Feature Value', align: 'start', color: '#000', font: { size: 64, weight: 'bold', lineHeight: 1 }, padding: { top: 0, bottom: 20 } }
    },
    scales: {
      x: { display: false },
      y: {
        position: 'right', min: 0, max: 1,
        afterBuildTicks(s) { s.ticks = colorbarTicks.map(v => ({ value: v })); },
        afterFit(s) { s.width = 372; },
        grid: { display: false, drawTicks: false },
        border: { display: false },
        ticks: { padding: 22, autoSkip: false, font: { size: 56 }, callback: v => colorbarLabels[colorbarTicks.indexOf(v)] }
      }
    }
  },
  plugins: [colorbarMarks]
});
</script>
</body>
</html>
